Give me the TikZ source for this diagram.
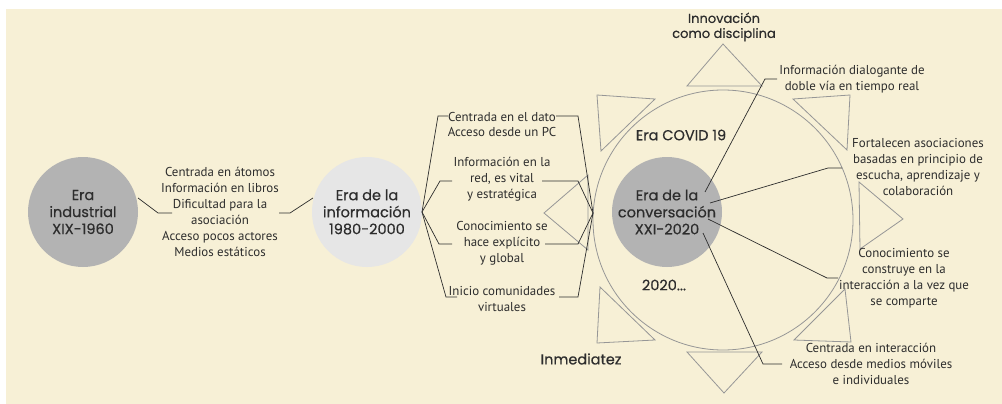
\documentclass[tikz,border=0pt]{standalone}
\usepackage{fontspec}
\setmainfont{PT Sans}
\newfontfamily\headfont{Poppins}[FakeBold=0.45]
\definecolor{bg}{RGB}{247,240,214}
\definecolor{dk}{RGB}{45,45,45}
\definecolor{gr}{RGB}{179,179,179}
\definecolor{lg}{RGB}{230,230,230}
\definecolor{ln}{RGB}{150,150,150}
\begin{document}
\begin{tikzpicture}[x=1pt,y=-1pt,
 era/.style={circle,minimum size=110pt,inner sep=0pt,align=center,font=\headfont\fontsize{14.5}{17}\selectfont,text=dk},
 body/.style={align=center,font=\fontsize{12.9}{15.9}\selectfont,text=dk,inner sep=0pt},
 head/.style={font=\headfont\fontsize{14.5}{17}\selectfont,text=dk,align=center,inner sep=0pt},
 conn/.style={draw=dk,line width=0.7pt},
 tri/.style={draw=ln,line width=0.8pt,line join=miter}]
\useasboundingbox (0,0) rectangle (1002,404);
\fill[bg] (6,9) rectangle (1002,404);

% big circle
\node[draw=ln,line width=0.8pt,circle,minimum size=260pt,inner sep=0pt] (big) at (723,220) {};

% triangles
\draw[tri] (723,44) -- (687,86) -- (762,86) -- cycle;
\draw[tri] (597,95) -- (655,99) -- (601,151) -- cycle;
\draw[tri] (793,99) -- (850,95) -- (847,150) -- cycle;
\draw[tri] (859,182) -- (903,219) -- (860,249) -- cycle;
\draw[tri] (845,289) -- (794,340) -- (851,342) -- cycle;
\draw[tri] (687,352) -- (762,352) -- (724,393) -- cycle;
\draw[tri] (600,287) -- (597,343) -- (655,340) -- cycle;
\draw[tri] (588,175) -- (544,213) -- (588,250) -- cycle;

% era circles
\node[era,fill=gr] (c1) at (83,212) {Era\\industrial\\XIX-1960};
\node[era,fill=lg] (c2) at (367,212) {Era de la\\información\\1980-2000};
\node[era,fill=gr] (c3) at (667,212) {Era de la\\conversación\\XXI-2020};

% left text
\node[body] (t1) at (220,212) {Centrada en átomos\\Información en libros\\Dificultad para la\\asociación\\Acceso pocos actores\\Medios estáticos};
\coordinate (t1a) at (158,213);
\coordinate (t1b) at (172,213);
\coordinate (t1c) at (279,213);
\coordinate (t1d) at (290,213);
\draw[conn] ([shift={(55,-14)}]c1.center) -- (t1a) -- (t1b);
\draw[conn] (t1c) -- (t1d) -- ([shift={(-54,-14)}]c2.center);

% middle items
\node[body] (m1) at (502,124.5) {Centrada en el dato\\Acceso desde un PC};
\node[body] (m2) at (502,179) {Información en la\\red, es vital\\y estratégica};
\node[body] (m3) at (502,243) {Conocimiento se\\hace explícito\\y global};
\node[body] (m4) at (502,299) {Inicio comunidades\\virtuales};
\coordinate (lv) at (422,212);
\coordinate (rv) at (593,213);
\coordinate (m1a) at (438,116); \coordinate (m1b) at (448,116);
\coordinate (m1c) at (556,116); \coordinate (m1d) at (578,116);
\coordinate (m2a) at (440,181); \coordinate (m2b) at (452,181);
\coordinate (m2c) at (542,181); \coordinate (m2d) at (578,181);
\coordinate (m3a) at (439,244); \coordinate (m3b) at (452,244);
\coordinate (m3c) at (545,244); \coordinate (m3d) at (578,244);
\coordinate (m4a) at (446,297); \coordinate (m4b) at (457,297);
\coordinate (m4c) at (559,297); \coordinate (m4d) at (578,297);
\foreach \i in {1,2,3,4}{
  \draw[conn] (lv) -- (m\i a) -- (m\i b);
  \draw[conn] (m\i c) -- (m\i d) -- (rv);
}

% headings
\node[head] (covid) at (681,135) {Era COVID 19};
\node[head] (y2020) at (664,285) {2020...};
\node[head] (inm) at (581,359) {Inmediatez};
\node[head,font=\headfont\fontsize{13}{15}\selectfont] (inn) at (724,27) {Innovación\\como disciplina};

% right items
\node[body] (r1) at (852,79.5) {Información dialogante de\\doble vía en tiempo real};
\node[body] (r2) at (918,167) {Fortalecen asociaciones\\basadas en principio de\\escucha, aprendizaje y\\colaboración};
\node[body] (r3) at (904,278.5) {Conocimiento se\\construye en la\\interacción a la vez que\\se comparte};
\node[body] (r4) at (871,364) {Centrada en interacción\\Acceso desde medios móviles\\e individuales};
\coordinate (r1a) at (765,79); \coordinate (r1b) at (777,79);
\coordinate (r2a) at (828,168); \coordinate (r2b) at (842,168);
\coordinate (r3a) at (827,278); \coordinate (r3b) at (838,278);
\coordinate (r4a) at (763,364); \coordinate (r4b) at (782,364);
\draw[conn] ([shift={(38,-20)}]c3.center) -- (r1a) -- (r1b);
\draw[conn] ([shift={(43,-9)}]c3.center) -- (r2a) -- (r2b);
\draw[conn] ([shift={(41,7)}]c3.center) -- (r3a) -- (r3b);
\draw[conn] ([shift={(36,21)}]c3.center) -- (r4a) -- (r4b);
\end{tikzpicture}
\end{document}
